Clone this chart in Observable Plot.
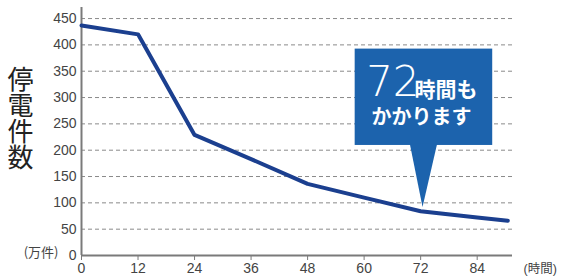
<!DOCTYPE html>
<html>
<head>
<meta charset="utf-8">
<script src="https://cdn.jsdelivr.net/npm/d3@7"></script>
<script src="https://cdn.jsdelivr.net/npm/@observablehq/plot@0.6"></script>
<style>
  html, body { margin: 0; padding: 0; background: #fff; }
  #chart svg { display: block; }
  #chart text.vtitle { writing-mode: vertical-rl; text-orientation: upright; }
</style>
</head>
<body>
<div id="chart"></div>
<script>
// Data
const hours   = [0, 12, 24, 36, 48, 60, 72, 84, 90.5];
const outages = [437, 420, 229, 183, 136, 110, 84, 72, 66]; // 万件
const xTicks = [0, 12, 24, 36, 48, 60, 72, 84];
const yTicks = [0, 50, 100, 150, 200, 250, 300, 350, 400, 450];
const yTitle = "停電件数";

// Callout (annotation) in data coordinates
const calloutBox = [{x1: 58.1, x2: 87.3, y1: 209, y2: 392}];
const calloutPointer = [
  {x: 69.7, y: 212}, {x: 72.4, y: 92}, {x: 75.5, y: 212}
];
const calloutBig = [{x: 66.1, y: 329, text: "72"}];
const calloutSmall1 = [{x: 77.4, y: 314, text: "時間も"}];
const calloutSmall2 = [{x: 72.2, y: 261, text: "かかります"}];

const data = hours.map((h, i) => ({h, v: outages[i]}));

const FONT = "'Liberation Sans', 'Noto Sans CJK JP', sans-serif";
const JFONT = "'Noto Sans CJK JP', sans-serif";

const chart = Plot.plot({
  width: 565,
  height: 276,
  marginLeft: 81,
  marginRight: 53,
  marginTop: 7,
  marginBottom: 21,
  style: {fontFamily: FONT, background: "#fff"},
  x: {domain: [0, 91.5]},
  y: {domain: [0, 471]},
  marks: [
    Plot.gridY(yTicks.filter(d => d > 0), {stroke: "#8a8a8a", strokeOpacity: 1, strokeDasharray: "4,3", strokeWidth: 1}),
    Plot.ruleY([0], {stroke: "#7a7a7a", strokeWidth: 2}),
    Plot.ruleX([0], {y1: 0, y2: 471, stroke: "#7a7a7a", strokeWidth: 2}),
    Plot.axisX(xTicks, {tickSize: 5, tickPadding: 3, stroke: "#7a7a7a", fontSize: 14, fill: "#444", tickFormat: d => d}),
    Plot.axisY(yTicks, {tickSize: 0, tickPadding: 5, fontSize: 14, fill: "#444", tickFormat: d => d}),
    Plot.line(data, {x: "h", y: "v", stroke: "#1b3f8f", strokeWidth: 4, strokeLinejoin: "round"}),
    Plot.rect(calloutBox, {x1: "x1", x2: "x2", y1: "y1", y2: "y2", fill: "#1c63ad"}),
    Plot.line(calloutPointer, {x: "x", y: "y", fill: "#1c63ad", stroke: "none"}),
    Plot.text(calloutBig, {x: "x", y: "y", text: "text", fill: "#fff", fontSize: 42, fontWeight: 200, fontFamily: "'DejaVu Sans', sans-serif", letterSpacing: "2px", lineAnchor: "middle"}),
    Plot.text(calloutSmall1, {x: "x", y: "y", text: "text", fill: "#fff", fontSize: 21, fontWeight: "bold", fontFamily: JFONT, lineAnchor: "middle"}),
    Plot.text(calloutSmall2, {x: "x", y: "y", text: "text", fill: "#fff", fontSize: 20, fontWeight: "bold", fontFamily: JFONT, lineAnchor: "middle"}),
    Plot.text([yTitle], {frameAnchor: "top-left", dx: -61, dy: 111, textAnchor: "middle", lineAnchor: "bottom", fontSize: 26, letterSpacing: "2.5px", fill: "#222", fontFamily: JFONT, className: "vtitle"}),
    Plot.text(["(万件)"], {x: 0, y: 0, dx: -23, dy: -3, textAnchor: "end", fontSize: 13, fill: "#444", fontFamily: JFONT}),
    Plot.text(["(時間)"], {x: 91.5, y: 0, dx: 11, dy: 13, textAnchor: "start", fontSize: 12.5, fill: "#444", fontFamily: FONT})
  ]
});
// vertical writing for the y-axis title (fallback if className is unsupported)
d3.select(chart).selectAll("text").filter(function() { return this.textContent === yTitle; })
  .style("writing-mode", "vertical-rl").style("text-orientation", "upright");
document.getElementById("chart").appendChild(chart);
</script>
</body>
</html>
